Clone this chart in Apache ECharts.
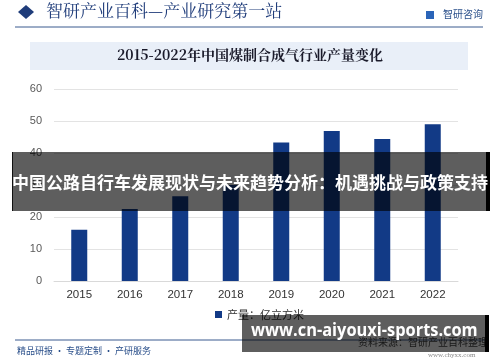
<!DOCTYPE html>
<html><head><meta charset="utf-8">
<script src="https://cdn.jsdelivr.net/npm/echarts@6/dist/echarts.min.js"></script>
<style>html,body{margin:0;padding:0;background:#fff}#c{width:500px;height:362px}</style>
</head><body><div id="c"></div>
<script>
const categories = ['2015','2016','2017','2018','2019','2020','2021','2022'];
const production = [16.0, 22.5, 26.5, 30.0, 43.3, 46.9, 44.4, 49.0];
const seriesName = '产量：亿立方米';
const chartTitle = '2015-2022年中国煤制合成气行业产量变化';
const headerText = '智研产业百科—产业研究第一站';
const overlayText = '中国公路自行车发展现状与未来趋势分析：机遇挑战与政策支持';
const footerText = '精品研报 · 专题定制 · 产研服务';
const siteText = 'www.cn-aiyouxi-sports.com';

const chart = echarts.init(document.getElementById('c'));
const CJK = '"Noto Sans CJK SC", sans-serif';
chart.setOption({
  animation: false,
  backgroundColor: '#fff',
  grid: {left: 54, right: 42, top: 89, bottom: 81},
  legend: {
    data: [seriesName], left: 210, top: 304, icon: 'rect', itemWidth: 7, itemHeight: 7, itemGap: 4,
    textStyle: {fontFamily: CJK, fontSize: 11, color: '#333'}
  },
  xAxis: {
    type: 'category', data: categories,
    axisLine: {show: true, lineStyle: {color: '#d9d9d9'}},
    axisTick: {show: false},
    axisLabel: {fontFamily: 'Liberation Sans, Arial', fontSize: 11.5, color: '#333', margin: 8}
  },
  yAxis: {
    type: 'value', min: 0, max: 60, interval: 10,
    axisLine: {show: false}, axisTick: {show: false},
    splitLine: {lineStyle: {color: '#e3e3e3'}},
    axisLabel: {fontFamily: 'Liberation Sans, Arial', fontSize: 11, color: '#595959', margin: 12}
  },
  series: [{
    name: seriesName, type: 'bar', data: production, barWidth: 16,
    itemStyle: {color: '#123a86'}
  }],
  graphic: [
    {type: 'polygon', shape: {points: [[18,12],[26,5],[34,12],[26,19]]}, style: {fill: '#1f3c7a'}},
    {type: 'text', left: 46, top: 2, style: {text: headerText, font: '17px "Noto Serif CJK SC", "Noto Sans CJK SC", serif', fill: '#1f3c7a'}},
    {type: 'rect', shape: {x: 426, y: 11, width: 8, height: 8}, style: {fill: '#2a64b8'}},
    {type: 'text', left: 443, top: 9, style: {text: '智研咨询', font: '10px ' + CJK, fill: '#2a4f8a'}},
    {type: 'line', shape: {x1: 15, y1: 27, x2: 483, y2: 27}, style: {stroke: '#3b5a8f', lineWidth: 1}},
    {type: 'rect', shape: {x: 30, y: 42, width: 438, height: 28}, style: {fill: '#e9eff8'}},
    {type: 'text', left: 'center', top: 48, style: {text: chartTitle, font: 'bold 14px "Noto Serif CJK SC", ' + CJK, fill: '#1a1a2a'}},
    {type: 'line', shape: {x1: 15, y1: 340, x2: 485, y2: 340}, style: {stroke: '#3b5a8f', lineWidth: 1}},
    {type: 'text', left: 17, top: 346, style: {text: footerText, font: '9px ' + CJK, fill: '#2a4f8a'}},
    {type: 'text', left: 358, top: 337, style: {text: '资料来源：智研产业百科整理', font: '10px ' + CJK, fill: '#444'}},
    {type: 'text', left: 428, top: 352, style: {text: 'www.chyxx.com', font: '7px serif', fill: '#888'}},
    {type: 'rect', z: 100, shape: {x: 12, y: 152, width: 476, height: 59}, style: {fill: 'rgba(0,0,0,0.63)'}},
    {type: 'rect', z: 101, shape: {x: 12, y: 152, width: 1, height: 59}, style: {fill: '#111'}},
    {type: 'rect', z: 101, shape: {x: 486, y: 152, width: 4, height: 59}, style: {fill: '#000'}},
    {type: 'text', z: 102, left: 'center', top: 174, style: {text: overlayText, font: 'bold 17px ' + CJK, fill: '#fff'}},
    {type: 'rect', z: 100, shape: {x: 242, y: 315, width: 243, height: 37}, style: {fill: 'rgba(0,0,0,0.63)'}},
    {type: 'rect', z: 101, shape: {x: 485, y: 315, width: 4, height: 37}, style: {fill: '#000'}},
    {type: 'text', z: 102, x: 251, y: 322, scaleX: 0.91, style: {text: siteText, font: 'bold 18px "Open Sans", "DejaVu Sans", sans-serif', fill: '#fff'}}
  ]
});
</script></body></html>
